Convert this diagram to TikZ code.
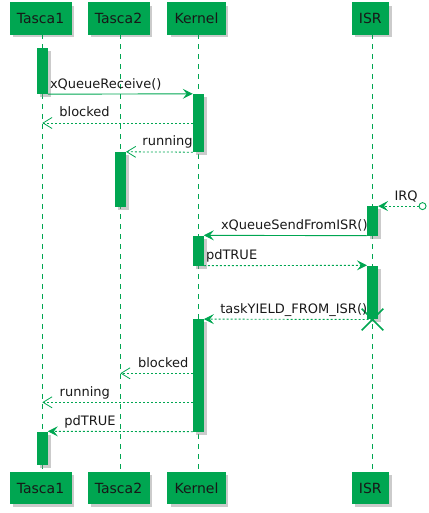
\documentclass[tikz,border=0pt]{standalone}
\usepackage{fontspec}
\setmainfont{DejaVu Sans}
\usetikzlibrary{arrows.meta,shadows,shapes.misc}
\definecolor{umlgreen}{RGB}{0,166,81}
\definecolor{umltext}{RGB}{24,24,24}

\begin{document}
\begin{tikzpicture}[x=1pt,y=-1pt,
  shade/.style={drop shadow={shadow xshift=3pt,shadow yshift=-3pt,fill=black!45,opacity=0.45}},
  part/.style={rectangle,fill=umlgreen,draw=umlgreen,inner xsep=7pt,inner ysep=0pt,minimum height=31.3pt,
    text=umltext,font=\fontsize{14pt}{16pt}\selectfont,shade},
  bar/.style={rectangle,fill=umlgreen,inner sep=0pt,minimum width=10.7pt,shade},
  life/.style={umlgreen,line width=0.8pt,dash pattern=on 5pt off 5pt},
  call/.style={umlgreen,line width=0.9pt,-{Stealth[length=10pt,width=10pt,inset=4pt]}},
  ret/.style={umlgreen,line width=0.9pt,dash pattern=on 2pt off 2pt,-{Stealth[length=10pt,width=10pt,inset=4pt]}},
  back/.style={umlgreen,line width=0.8pt,dash pattern=on 2pt off 2pt,-{Straight Barb[length=9pt,width=11pt]}},
  lbl/.style={text=umltext,font=\fontsize{13pt}{15pt}\selectfont,inner sep=0pt,anchor=base west}]
\useasboundingbox (0,0) rectangle (428,513);

% participants, top and bottom
\foreach \x/\n in {40.5/Tasca1, 118.5/Tasca2, 196.5/Kernel, 370.3/ISR}{
	\node[part] (top\n) at (\x,18.35) {\n};
	\node[part] (bot\n) at (\x,488) {\n};
}
% lifelines
\foreach \x/\n in {42.3/Tasca1, 120.3/Tasca2, 198.3/Kernel, 372.3/ISR}{
	\coordinate (l\n) at (\x,34);
	\draw[life] (top\n.south -| l\n) -- (bot\n.north -| l\n);
}

% activations
\node[bar,minimum height=45.7pt] (act1) at (42.3,71.15) {};
\node[bar,minimum height=58pt] (ker1) at (198.3,123) {};
\node[bar,minimum height=54.7pt] (tsk2) at (120.5,179.35) {};
\node[bar,minimum height=29.2pt] (isr1) at (372.5,220.9) {};
\node[bar,minimum height=30pt] (ker2) at (198.3,250.5) {};
\node[bar,minimum height=53.8pt] (isr2) at (372.5,292.4) {};
\node[bar,minimum height=112.2pt] (ker3) at (198.3,375.4) {};
\node[bar,minimum height=33.8pt] (act2) at (42.3,448.4) {};

% rows of the later messages
\coordinate (r1) at (0,373.3);
\coordinate (r2) at (0,402.3);

% messages
\draw[call] (act1.south east) -- (ker1.north west)
	node[lbl,pos=0,xshift=1.7pt,yshift=6pt] (m1) {xQueueReceive()};
\draw[back] (ker1.west) -- (ker1.west -| lTasca1)
	node[lbl,pos=1,xshift=16.7pt,yshift=6pt] (m2) {blocked};
\draw[back] (ker1.south west) -- (tsk2.north east)
	node[lbl,pos=1,xshift=16pt,yshift=6pt] (m3) {running};

% interrupt
\node[circle,draw=umlgreen,line width=0.9pt,fill=white,minimum size=7pt,inner sep=0pt] (irq) at ([xshift=44.5pt]isr1.north east) {};
\draw[ret] (irq) -- (isr1.north east)
	node[lbl,pos=1,xshift=16pt,yshift=6pt] (m4) {IRQ};
\draw[call] (isr1.south west) -- (ker2.north east)
	node[lbl,pos=1,xshift=16.7pt,yshift=6pt] (m5) {xQueueSendFromISR()};
\draw[ret] (ker2.south east) -- (isr2.north west)
	node[lbl,pos=0,xshift=1.7pt,yshift=6pt] (m6) {pdTRUE};

% end of the ISR
\node[cross out,draw=umlgreen,line width=1.6pt,minimum size=20pt,inner sep=0pt] (stop) at (isr2.south) {};
\draw[ret] (stop.center) -- (ker3.north east)
	node[lbl,pos=1,xshift=16pt,yshift=6pt] (m7) {taskYIELD\_FROM\_ISR()};

\draw[back] (ker3.west |- r1) -- (lTasca2 |- r1)
	node[lbl,pos=1,xshift=17.4pt,yshift=6pt] (m8) {blocked};
\draw[back] (ker3.west |- r2) -- (lTasca1 |- r2)
	node[lbl,pos=1,xshift=17pt,yshift=6pt] (m9) {running};
\draw[ret] (ker3.south west) -- (act2.north east)
	node[lbl,pos=1,xshift=16pt,yshift=6pt] (m10) {pdTRUE};
\end{tikzpicture}
\end{document}
